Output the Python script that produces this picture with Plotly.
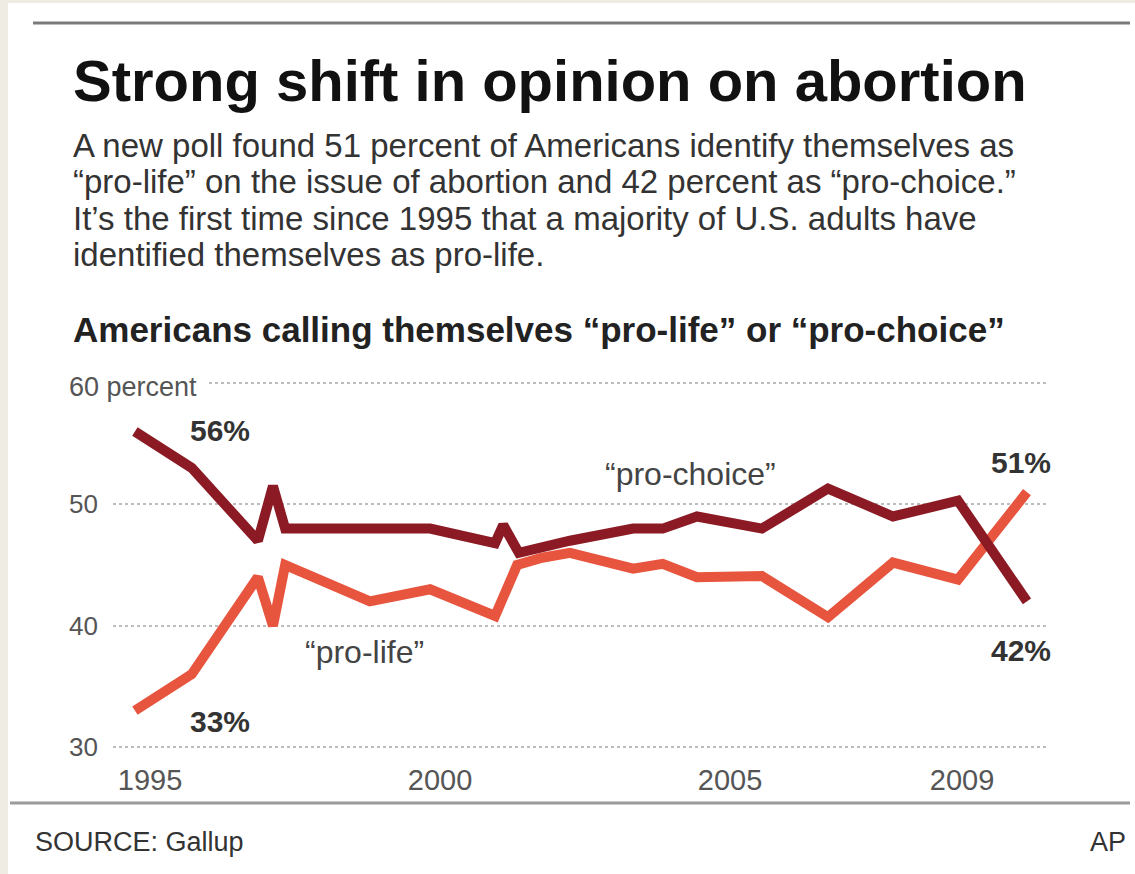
import plotly.graph_objects as go

# ---- data ----
choice_x = [1994.74, 1995.72, 1996.86, 1997.12, 1997.33, 1998.79, 1999.83, 2000.95,
            2001.09, 2001.36, 2002.24, 2003.33, 2003.84, 2004.43, 2005.55, 2006.69,
            2007.81, 2008.93, 2010.12]
choice_y = [56, 53, 47, 51.5, 48, 48, 48, 46.8, 48.3, 46, 47, 48, 48, 49, 48, 51.3, 49, 50.3, 42]

life_x = [1994.74, 1995.72, 1996.86, 1997.12, 1997.33, 1998.79, 1999.83, 2000.95,
          2001.33, 2001.76, 2002.24, 2003.33, 2003.84, 2004.43, 2005.55, 2006.69,
          2007.81, 2008.93, 2010.12]
life_y = [33, 36, 44, 40, 45, 42, 43, 40.8, 45, 45.6, 46, 44.7, 45.1, 44, 44.1, 40.7, 45.2, 43.8, 51]

x_ticks = [1995, 2000, 2005, 2009]
x_tick_labels = ["1995", "2000", "2005", "2009"]
y_ticks = [30, 40, 50, 60]
y_tick_labels = ["30", "40", "50", ""]

DARK = "#8b1a24"
LIGHT = "#e8553f"

W, H = 1135, 874
ML, MR, MT, MB = 113, 87, 381, 125
PW, PH = W - ML - MR, H - MT - MB

# pixel scale: 60 at y=383, 30 at y=747
Y_PX = (747 - 383) / 30
y_lo = 30 - ((H - MB) - 747) / Y_PX
y_hi = 60 + (383 - MT) / Y_PX


def px(x):
    return (x - ML) / PW


def py(y):
    return (H - MB - y) / PH


SANS = "Liberation Sans, Arial, Helvetica, sans-serif"

fig = go.Figure()
fig.add_trace(go.Scatter(x=life_x, y=life_y, mode="lines",
                         line=dict(color=LIGHT, width=10), hoverinfo="skip"))
fig.add_trace(go.Scatter(x=choice_x, y=choice_y, mode="lines",
                         line=dict(color=DARK, width=10), hoverinfo="skip"))

# 1995 at x=150 px, 58 px per year
x0 = 1995 - (150 - ML) / 58
x1 = x0 + PW / 58

fig.update_layout(
    width=W, height=H,
    margin=dict(l=ML, r=MR, t=MT, b=MB, pad=0),
    paper_bgcolor="#efece4",
    plot_bgcolor="rgba(0,0,0,0)",
    showlegend=False,
    xaxis=dict(range=[x0, x1], tickvals=x_ticks, ticktext=x_tick_labels,
               showgrid=False, zeroline=False, showline=False, ticks="",
               ticklabelstandoff=11,
               tickfont=dict(family=SANS, size=29, color="#555"),
               fixedrange=True),
    yaxis=dict(range=[y_lo, y_hi], tickvals=y_ticks, ticktext=y_tick_labels,
               showgrid=True, gridcolor="#bdbdbd", gridwidth=2, griddash="dot",
               zeroline=False, showline=False, ticks="",
               ticklabelstandoff=14,
               tickfont=dict(family=SANS, size=26, color="#555"),
               fixedrange=True),
)

shapes = [
    # white panel
    dict(type="rect", xref="paper", yref="paper", x0=px(8), x1=px(1140),
         y0=py(880), y1=py(3), fillcolor="white", line=dict(width=0), layer="below"),
    # top rule
    dict(type="line", xref="paper", yref="paper", x0=px(33), x1=px(1130),
         y0=py(23), y1=py(23), line=dict(color="#7a7a7a", width=3)),
    # bottom rule
    dict(type="line", xref="paper", yref="paper", x0=px(10), x1=px(1130),
         y0=py(803), y1=py(803), line=dict(color="#9a9a9a", width=3)),
]
fig.update_layout(shapes=shapes)


def ann(text, x, y, size, color="#333", xanchor="left", bold=False, bg=None, pad=3):
    fig.add_annotation(text=f"<b>{text}</b>" if bold else text,
                       x=px(x), y=py(y), xref="paper", yref="paper",
                       xanchor=xanchor, yanchor="middle", showarrow=False,
                       font=dict(family=SANS, size=size, color=color),
                       bgcolor=bg, borderpad=pad)


ann("Strong shift in opinion on abortion", 69, 80, 58, "#111", bold=True)
sub = [
    "A new poll found 51 percent of Americans identify themselves as",
    "“pro-life” on the issue of abortion and 42 percent as “pro-choice.”",
    "It’s the first time since 1995 that a majority of U.S. adults have",
    "identified themselves as pro-life.",
]
for i, line in enumerate(sub):
    ann(line, 69, 145 + 36.5 * i, 33, "#333")
ann("Americans calling themselves “pro-life” or “pro-choice”", 69, 329, 35, "#222", bold=True)

ann("60 percent", 58, 387, 27, "#555", bg="white", pad=10)
ann("56%", 220, 430, 30, "#333", xanchor="center", bold=True)
ann("33%", 220, 721, 30, "#333", xanchor="center", bold=True)
ann("51%", 1021, 462, 30, "#333", xanchor="center", bold=True)
ann("42%", 1021, 650, 30, "#333", xanchor="center", bold=True)
ann("“pro-life”", 364, 652, 32, "#444", xanchor="center")
ann("“pro-choice”", 690, 474, 32, "#444", xanchor="center")

ann("SOURCE: Gallup", 31, 842, 27, "#333")
ann("AP", 1130, 842, 27, "#333", xanchor="right")

fig.write_html("out.html", config={"displayModeBar": False})

# remove the default page margin so the figure sits at the window's top-left corner
with open("out.html", encoding="utf-8") as f:
    html = f.read()
html = html.replace("<head>", "<head><style>html,body{margin:0;padding:0;overflow:hidden;}</style>", 1)
with open("out.html", "w", encoding="utf-8") as f:
    f.write(html)
